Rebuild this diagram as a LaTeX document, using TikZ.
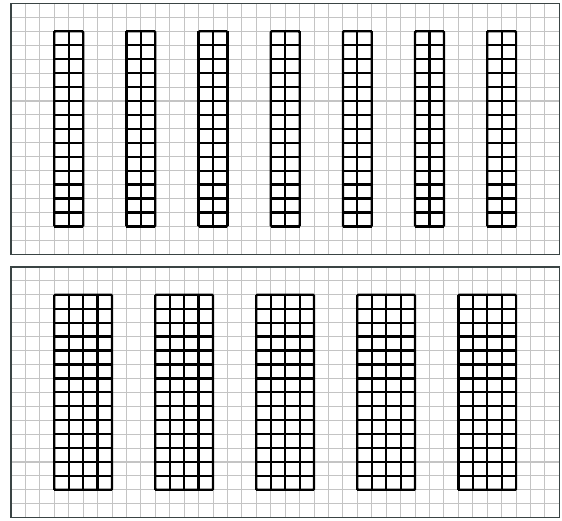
\documentclass[tikz,border=0pt]{standalone}
\usepackage{tikz}
\usetikzlibrary{positioning}
\definecolor{sheetgray}{HTML}{C4C4C4}
\definecolor{frameslate}{HTML}{3A4444}

\begin{document}
\begin{tikzpicture}[
    x=0.5cm, y=0.4827cm,
    paper/.style={draw=sheetgray, line width=1pt, step=1},
    frame/.style={draw=frameslate, line width=1.3pt},
    tray/.style={draw=black, line width=2.2pt, step=1},
    trayedge/.style={draw=black, line width=2.2pt, rounded corners=1pt}
]
\useasboundingbox (-0.762,-0.165) rectangle (38.18,37.16);

% Top panel: narrow trays
\begin{scope}[shift={(0,18.91)}]
    \draw[paper] (0,0) grid (38,18);
    \foreach \i in {0,...,6} {
        \draw[tray] ({3+5*\i},2) grid ({5+5*\i},16);
        \draw[trayedge] ({3+5*\i},2) rectangle ({5+5*\i},16);
    }
    \draw[frame] (0,0) rectangle (38,18);
\end{scope}

% Bottom panel: wide trays
\begin{scope}
    \draw[paper] (0,0) grid (38,18);
    \foreach \i in {0,...,4} {
        \draw[tray] ({3+7*\i},2) grid ({7+7*\i},16);
        \draw[trayedge] ({3+7*\i},2) rectangle ({7+7*\i},16);
    }
    \draw[frame] (0,0) rectangle (38,18);
\end{scope}

\end{tikzpicture}
\end{document}
